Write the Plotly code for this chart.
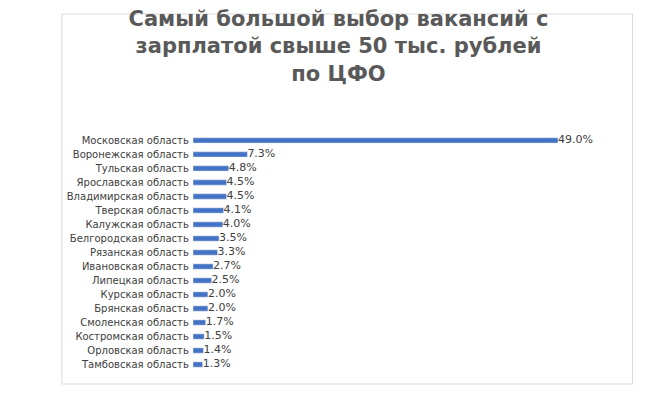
import plotly.graph_objects as go

regions = ["Московская область", "Воронежская область", "Тульская область", "Ярославская область",
           "Владимирская область", "Тверская область", "Калужская область", "Белгородская область",
           "Рязанская область", "Ивановская область", "Липецкая область", "Курская область",
           "Брянская область", "Смоленская область", "Костромская область", "Орловская область",
           "Тамбовская область"]
shares = [49.0, 7.3, 4.8, 4.5, 4.5, 4.1, 4.0, 3.5, 3.3, 2.7, 2.5, 2.0, 2.0, 1.7, 1.5, 1.4, 1.3]

fig = go.Figure(go.Bar(
    x=shares, y=regions, orientation="h",
    marker_color="#4472C4",
))
# value labels as a text trace so they keep full size
fig.add_trace(go.Scatter(
    x=shares, y=regions, mode="text",
    text=[f"{v:.1f}%" for v in shares], textposition="middle right",
    textfont=dict(size=11, color="#404040", family="DejaVu Sans"), cliponaxis=False,
))

fig.update_layout(
    width=661, height=404,
    font=dict(family="DejaVu Sans", color="#595959"),
    title=dict(text="<b>Самый большой выбор вакансий с<br>зарплатой свыше 50 тыс. рублей<br>по ЦФО</b>",
               x=0.5, xanchor="center", y=0.955, yanchor="top",
               font=dict(size=21, color="#595959")),
    margin=dict(l=185, r=111, t=120, b=35),
    bargap=0.62,
    plot_bgcolor="white", paper_bgcolor="white",
    showlegend=False,
    xaxis=dict(visible=False, range=[0, 49]),
    yaxis=dict(autorange="reversed", showline=False, ticks="", automargin=False,
               ticksuffix=" ", tickfont=dict(size=10, color="#404040")),
    shapes=[dict(type="rect", xref="paper", yref="paper",
                 x0=-167/465, x1=1 + 95/465, y0=-7/249, y1=1 + 114/249,
                 line=dict(color="#D9D9D9", width=1))],
)

fig.write_html("out.html")
